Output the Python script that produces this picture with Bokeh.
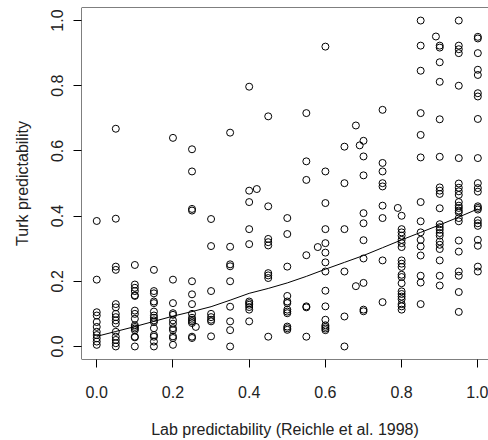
import numpy as np
from bokeh.plotting import figure
from bokeh.models import Range1d, Span, FixedTicker, PrintfTickFormatter
from bokeh.embed import file_html
from bokeh.resources import INLINE

# Lab predictability levels (x) and the Turk predictability values (y) read at each level
lab_levels = [0.00, 0.05, 0.10, 0.15, 0.20, 0.25, 0.26, 0.30, 0.35, 0.40, 0.42, 0.45,
              0.50, 0.55, 0.58, 0.60, 0.65, 0.68, 0.69, 0.70, 0.75, 0.79, 0.80, 0.85,
              0.89, 0.90, 0.95, 1.00]
turk_000 = [0.385, 0.205, 0.105, 0.095, 0.075, 0.06, 0.045, 0.035, 0.025, 0.015, 0.005]
turk_005 = [0.668, 0.392, 0.245, 0.235, 0.13, 0.12, 0.10, 0.09, 0.08, 0.07, 0.045, 0.03, 0.02, 0.01, 0.0]
turk_010 = [0.25, 0.19, 0.18, 0.17, 0.157, 0.155, 0.11, 0.10, 0.085, 0.065, 0.06, 0.055, 0.05, 0.03, 0.028, 0.0]
turk_015 = [0.235, 0.17, 0.163, 0.138, 0.133, 0.107, 0.095, 0.088, 0.08, 0.075, 0.056, 0.035, 0.03, 0.015, 0.0]
turk_020 = [0.64, 0.205, 0.133, 0.102, 0.097, 0.08, 0.07, 0.056, 0.05, 0.031, 0.026, 0.005]
turk_025 = [0.605, 0.537, 0.422, 0.417, 0.2, 0.16, 0.13, 0.1, 0.088, 0.082, 0.077, 0.072, 0.03, 0.026]
turk_026 = [0.06]
turk_030 = [0.391, 0.308, 0.17, 0.1, 0.09, 0.082, 0.077, 0.031]
turk_035 = [0.656, 0.306, 0.252, 0.246, 0.2, 0.122, 0.077, 0.05, 0.0]
turk_040 = [0.797, 0.478, 0.443, 0.36, 0.314, 0.138, 0.133, 0.128, 0.121, 0.113, 0.077]
turk_042 = [0.483]
turk_045 = [0.706, 0.43, 0.33, 0.32, 0.31, 0.225, 0.218, 0.21, 0.03]
turk_050 = [0.394, 0.345, 0.245, 0.155, 0.138, 0.133, 0.113, 0.107, 0.102, 0.061, 0.056, 0.051]
turk_055 = [0.716, 0.568, 0.511, 0.28, 0.123, 0.12, 0.03]
turk_058 = [0.305]
turk_060 = [0.92, 0.537, 0.44, 0.36, 0.317, 0.288, 0.258, 0.23, 0.171, 0.123, 0.082, 0.065, 0.06, 0.055, 0.05]
turk_065 = [0.613, 0.501, 0.36, 0.23, 0.092, 0.0]
turk_068 = [0.678, 0.185]
turk_069 = [0.617]
turk_070 = [0.631, 0.583, 0.525, 0.409, 0.378, 0.326, 0.27, 0.195, 0.113, 0.108]
turk_075 = [0.726, 0.563, 0.537, 0.501, 0.491, 0.432, 0.394, 0.264, 0.136]
turk_079 = [0.425]
turk_080 = [0.401, 0.36, 0.35, 0.34, 0.327, 0.317, 0.305, 0.264, 0.254, 0.244, 0.22, 0.213,
            0.194, 0.169, 0.161, 0.153, 0.145, 0.13, 0.123, 0.113]
turk_085 = [1.0, 0.923, 0.846, 0.716, 0.649, 0.58, 0.443, 0.384, 0.35, 0.327, 0.307, 0.279, 0.217, 0.196, 0.13]
turk_089 = [0.951]
turk_090 = [0.923, 0.917, 0.872, 0.812, 0.697, 0.582, 0.488, 0.478, 0.468, 0.424, 0.375, 0.366,
            0.358, 0.348, 0.34, 0.322, 0.312, 0.299, 0.264, 0.217, 0.187]
turk_095 = [1.0, 0.923, 0.912, 0.9, 0.8, 0.578, 0.5, 0.487, 0.476, 0.465, 0.443, 0.432, 0.425,
            0.417, 0.411, 0.394, 0.384, 0.325, 0.291, 0.23, 0.217, 0.167, 0.106]
turk_100 = [0.95, 0.945, 0.9, 0.849, 0.833, 0.777, 0.767, 0.698, 0.578, 0.501, 0.486, 0.475,
            0.43, 0.425, 0.42, 0.387, 0.378, 0.37, 0.327, 0.309, 0.245, 0.23]

turk_columns = [turk_000, turk_005, turk_010, turk_015, turk_020, turk_025, turk_026, turk_030,
                turk_035, turk_040, turk_042, turk_045, turk_050, turk_055, turk_058, turk_060,
                turk_065, turk_068, turk_069, turk_070, turk_075, turk_079, turk_080, turk_085,
                turk_089, turk_090, turk_095, turk_100]

# Smoothed (loess) curve
curve_x = [0.0, 0.05, 0.1, 0.15, 0.2, 0.25, 0.3, 0.35, 0.4, 0.45, 0.5, 0.55, 0.6, 0.65, 0.7,
           0.75, 0.8, 0.85, 0.9, 0.95, 1.0]
curve_y = [0.031, 0.046, 0.061, 0.077, 0.093, 0.107, 0.122, 0.142, 0.163, 0.178, 0.195, 0.215,
           0.237, 0.258, 0.279, 0.303, 0.327, 0.35, 0.373, 0.397, 0.422]

tick_values = [0.0, 0.2, 0.4, 0.6, 0.8, 1.0]

xs = []
ys = []
for lvl, col in zip(lab_levels, turk_columns):
    xs.extend([lvl] * len(col))
    ys.extend(col)

X_START, X_END = -0.04, 1.028
Y_START, Y_END = -0.04, 1.04

FONT = "Liberation Sans"

p = figure(width=488, height=440, output_backend="svg", toolbar_location=None,
           x_range=Range1d(X_START, X_END), y_range=Range1d(Y_START, Y_END),
           min_border_left=81, min_border_right=0, min_border_top=7, min_border_bottom=80)
p.outline_line_color = None
p.xgrid.visible = False
p.ygrid.visible = False
p.background_fill_color = "white"
p.border_fill_color = "white"

p.scatter(xs, ys, marker="circle", size=7, fill_color=None, line_color="black", line_width=1)
p.line(curve_x, curve_y, line_color="black", line_width=1)

# plot box (left, top, bottom; right side falls outside the picture)
for loc, dim in [(X_START, "height"), (Y_START, "width"), (Y_END, "width")]:
    p.add_layout(Span(location=loc, dimension=dim, line_color="black", line_width=1))

for ax in (p.xaxis[0], p.yaxis[0]):
    ax.ticker = FixedTicker(ticks=tick_values)
    ax.formatter = PrintfTickFormatter(format="%.1f")
    ax.axis_line_color = None
    ax.minor_tick_line_color = None
    ax.major_tick_in = 0
    ax.major_tick_out = 8
    ax.major_tick_line_color = "black"
    ax.major_label_text_font = FONT
    ax.major_label_text_font_size = "16px"
    ax.major_label_text_color = "#222222"
    ax.axis_label_text_font = FONT
    ax.axis_label_text_font_size = "16px"
    ax.axis_label_text_font_style = "normal"
    ax.axis_label_text_color = "#222222"

p.xaxis.axis_label = "Lab predictability (Reichle et al. 1998)"
p.yaxis.axis_label = "Turk predictability"
p.xaxis.major_label_standoff = 18
p.xaxis.axis_label_standoff = 20
p.yaxis.major_label_orientation = "vertical"
p.yaxis.major_label_standoff = 10
p.yaxis.axis_label_standoff = 18

open("out.html", "w").write(file_html(p, INLINE))
